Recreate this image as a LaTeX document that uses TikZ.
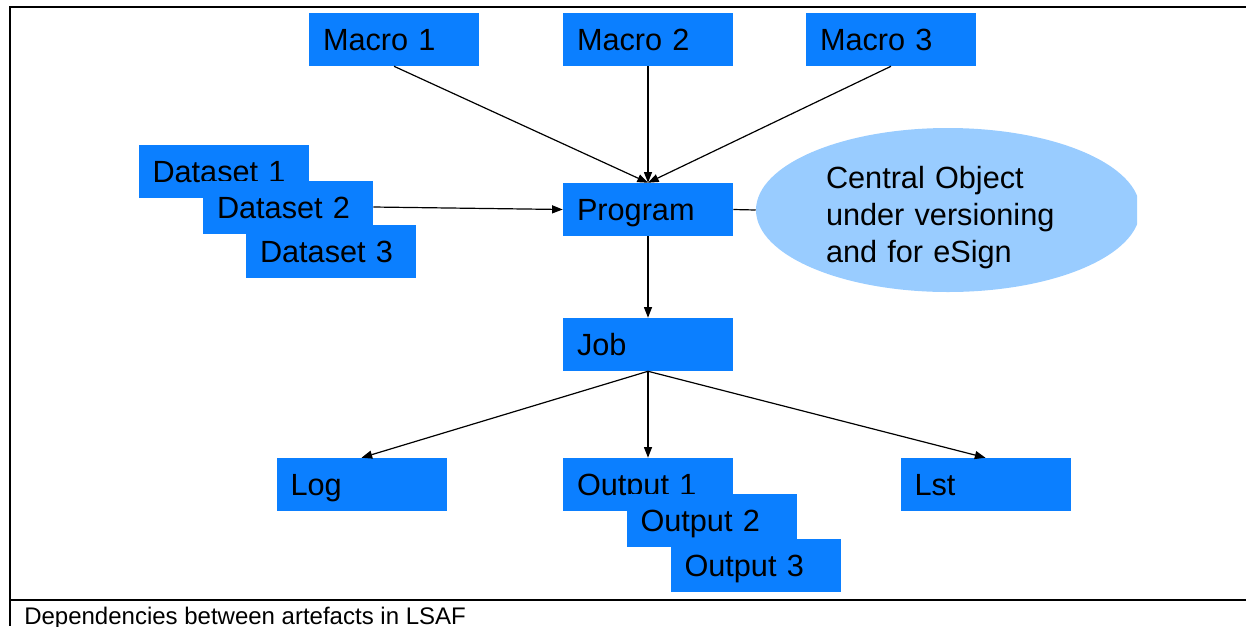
\documentclass[tikz,border=0pt]{standalone}
\usepackage{fontspec}
\setmainfont{Liberation Sans}
\usetikzlibrary{shapes,arrows.meta}
\definecolor{boxblue}{RGB}{11,127,255}
\definecolor{objblue}{RGB}{153,204,255}

\begin{document}
\begin{tikzpicture}[x=0.75pt,y=-0.75pt]
    % Define block styles
    \tikzstyle{artefact} = [rectangle, fill=boxblue, text width=106.5pt, inner xsep=10.5pt, inner ysep=0pt, minimum height=39.75pt, text height=16.5pt, text depth=0pt, align=left, font=\fontsize{23}{28}\selectfont]
    \tikzstyle{central} = [ellipse, fill=objblue, minimum width=288pt, minimum height=123pt, inner sep=0pt, text width=183pt, align=left, text height=17pt, text depth=50pt, font=\fontsize{23}{28}\selectfont]
    \tikzstyle{arrow} = [line width=0.9pt, -{Triangle[length=8pt,width=6pt]}]
    \tikzstyle{noarrow} = [line width=0.9pt]
    \tikzstyle{frame} = [line width=1.8pt]

    \useasboundingbox (0,0) rectangle (1246,626);

    % Draw frame and caption
    \draw [frame] (1246,7) -- (10,7) -- (10,626);
    \draw [frame] (10,600) -- (1246,600);
    \node (caption) [anchor=base west, inner sep=0pt, font=\fontsize{18}{22}\selectfont] at (24,624) {Dependencies between artefacts in LSAF};

    % Draw nodes
    \node (macro1) [artefact] at (394,39.5) {Macro 1};
    \node (macro2) [artefact] at (648,39.5) {Macro 2};
    \node (macro3) [artefact] at (891,39.5) {Macro 3};
    \node (data1) [artefact] at (223.5,171.5) {Dataset 1};
    \node (data2) [artefact] at (288,207) {Dataset 2};
    \node (data3) [artefact] at (331,251.5) {Dataset 3};
    \node (program) [artefact] at (648,209.5) {Program};
    \begin{scope}
        \clip (700,100) rectangle (1137,320);
        \node (object) [central] at (948,210) {Central Object\\under versioning\\and for eSign};
    \end{scope}
    \node (job) [artefact] at (648,344.5) {Job};
    \node (log) [artefact] at (361.5,484.5) {Log};
    \node (out1) [artefact] at (648,484.5) {Output 1};
    \node (out2) [artefact] at (711.5,520) {Output 2};
    \node (out3) [artefact] at (755.5,565) {Output 3};
    \node (lst) [artefact] at (985.5,484.5) {Lst};

    % Draw edges
    \draw [arrow] (macro1.south) -- (program.north);
    \draw [arrow] (macro2.south) -- (program.north);
    \draw [arrow] (macro3.south) -- (program.north);
    \draw [arrow] (data2.east) -- (program.west);
    \draw [noarrow] (program.east) -- (object.west);
    \draw [arrow] (program.south) -- (job.north);
    \draw [arrow] (job.south) -- (log.north);
    \draw [arrow] (job.south) -- (out1.north);
    \draw [arrow] (job.south) -- (lst.north);

\end{tikzpicture}
\end{document}
